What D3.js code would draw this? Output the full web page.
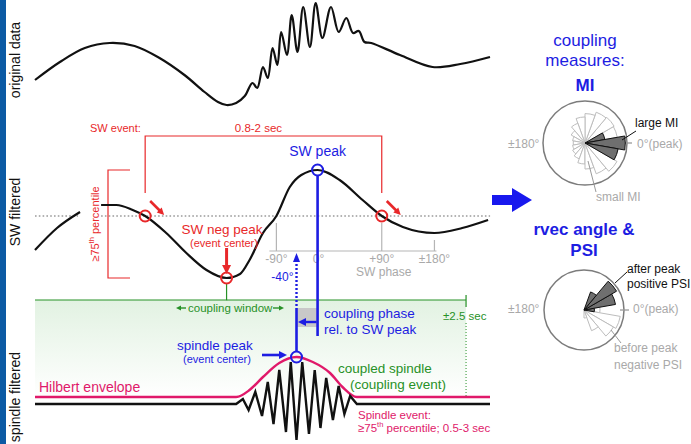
<!DOCTYPE html>
<html>
<head>
<meta charset="utf-8">
<script src="https://cdn.jsdelivr.net/npm/d3@7"></script>
<style>
  body { margin: 0; background: #fff; }
  svg { display: block; font-family: "Liberation Sans", Arial, sans-serif; }
</style>
</head>
<body>
<svg id="fig" width="691" height="444"></svg>
<script>
// ---- time base: seconds relative to the SW negative peak ----
// raw recording (slow wave + riding spindle), amplitude in µV
const origT = [-2.00,-1.74,-1.48,-1.22,-0.96,-0.70,-0.44,-0.23,-0.09,0.00,0.10,0.19,0.27,0.32,0.38,0.43,0.48,0.53,0.57,0.63,0.68,0.74,0.80,0.87,0.93,1.00,1.09,1.17,1.25,1.32,1.38,1.44,1.51,1.81,2.15,2.44,2.75];
const origV = [-52,-16,12,22,16,-8,-42,-76,-96,-102,-98,-84,-58,-68,-26,-48,12,-22,44,-2,78,4,94,14,102,32,94,44,72,42,46,24,22,-2,-26,-20,-6];

// SW-band filtered signal (normalised), before and after the time break
const swPreT = [-2.00,-1.77,-1.53];
const swPreV = [-0.68,-0.24,0.08];
const swT = [-1.31,-1.15,-0.98,-0.85,-0.63,-0.42,-0.21,0.00,0.14,0.24,0.38,0.52,0.66,0.78,0.95,1.18,1.42,1.62,1.84,2.17,2.46,2.73];
const swV = [0.22,0.22,0.12,0.00,-0.34,-0.74,-1.08,-1.24,-1.16,-0.88,-0.34,0.00,0.58,0.82,0.92,0.72,0.32,0.00,-0.22,-0.34,-0.24,-0.08];

// SW event landmarks
const swEventStart = {t: -0.85, v: 0.00};
const swNegPeak    = {t: 0.00,  v: -1.24};
const swPosPeak    = {t: 0.95,  v: 0.92};
const swEventEnd   = {t: 1.62,  v: 0.00};

// SW phase axis
const phaseLabels = ["-90°", "0°", "+90°", "±180°"];
const phaseT = [0.52, 0.95, 1.62, 2.17];

// spindle band: Hilbert envelope and filtered trace
const envT = [-2.00,0.10,0.24,0.38,0.55,0.73,0.90,1.08,1.21,1.36,2.75];
const envV = [0.175,0.175,0.35,0.675,1.025,1.175,1.05,0.775,0.425,0.175,0.175];
const spinT = [-2.00,0.10,0.17,0.23,0.30,0.37,0.43,0.49,0.55,0.62,0.67,0.73,0.79,0.86,0.92,0.98,1.04,1.11,1.17,1.23,1.29,1.36,2.75];
const spinV = [0,0,0.125,-0.15,0.3,-0.3,0.55,-0.5,0.85,-0.7,1.05,-0.9,1.05,-0.75,0.85,-0.6,0.65,-0.4,0.45,-0.25,0.2,0,0];
const spindlePeak = {t: 0.73, v: 1.175};
const couplingWindow = [-2.0, 2.5];

// phase histograms (bin centre in degrees, 0° = SW peak; length relative to circle radius)
const roseBins = [0,20,40,60,80,100,120,140,160,180,200,220,240,260,280,300,320,340];
const miUniform = [0.70,0.78,0.80,0.78,0.70,0.62,0.50,0.38,0.30,0.28,0.30,0.34,0.40,0.50,0.62,0.78,0.88,0.80];
const miCoupledBins = [20, 0, -20];
const miCoupled = [0.48, 0.96, 0.80];
const psiBeforeBins = [0, -20, -40, -60, -80];
const psiBefore = [0.40, 0.92, 0.85, 0.55, 0.20];
const psiAfterBins = [0, 20, 40, 60];
const psiAfter = [0.26, 0.80, 0.94, 0.48];

// ---- colours ----
const RED = "#e8282a", BLUE = "#1d1de2", GREEN = "#279127", PINK = "#e0196a", GREY = "#a9a9a9";

const svg = d3.select("#fig");
const defs = svg.append("defs");
const grad = defs.append("linearGradient").attr("id", "winFill")
  .attr("x1", 0).attr("y1", 0).attr("x2", 0).attr("y2", 1);
grad.append("stop").attr("offset", "0%").attr("stop-color", "#e2f2e2");
grad.append("stop").attr("offset", "100%").attr("stop-color", "#ffffff");

// ---- scales ----
const x = d3.scaleLinear().domain([-2, 2.75]).range([35, 490]);
const yOrig = d3.scaleLinear().domain([-110, 110]).range([109, -1]);
const ySW = d3.scaleLinear().domain([-1, 1]).range([266, 166]);
const ySp = d3.scaleLinear().domain([-1, 1]).range([444, 364]);

const zip = (ts, vs) => ts.map((t, i) => ({t, v: vs[i]}));
const interp = (ts, vs, t) => {
  const i = Math.max(1, Math.min(ts.length - 1, d3.bisectLeft(ts, t)));
  const f = (t - ts[i-1]) / (ts[i] - ts[i-1]);
  return vs[i-1] + f * (vs[i] - vs[i-1]);
};

function arrow(g, x1, y1, x2, y2, color, w, hl, hw) {
  const dx = x2 - x1, dy = y2 - y1, L = Math.hypot(dx, dy), ux = dx / L, uy = dy / L;
  const bx = x2 - ux * hl, by = y2 - uy * hl;
  g.append("line").attr("x1", x1).attr("y1", y1).attr("x2", bx + ux).attr("y2", by + uy)
    .attr("stroke", color).attr("stroke-width", w);
  g.append("path")
    .attr("d", `M${x2},${y2}L${bx - uy * hw / 2},${by + ux * hw / 2}L${bx + uy * hw / 2},${by - ux * hw / 2}Z`)
    .attr("fill", color);
}
function label(g, txt, px, py, size, color, anchor = "start", weight = "normal") {
  return g.append("text").attr("x", px).attr("y", py).attr("font-size", size)
    .attr("fill", color).attr("text-anchor", anchor).attr("font-weight", weight).text(txt);
}

// ---- left side bar and row titles ----
svg.append("rect").attr("x", 0).attr("y", 0).attr("width", 6).attr("height", 444).attr("fill", "#0c5aa4");
[["original data", 60], ["SW filtered", 212], ["spindle filtered", 397]].forEach(([t, cy]) => {
  svg.append("text").attr("transform", `translate(20,${cy}) rotate(-90)`)
    .attr("text-anchor", "middle").attr("font-size", 14).attr("fill", "#111").text(t);
});

// ---- coupling window background ----
const win = svg.append("g");
win.append("rect").attr("x", x(couplingWindow[0])).attr("y", 300)
  .attr("width", x(couplingWindow[1]) - x(couplingWindow[0])).attr("height", 98)
  .attr("fill", "url(#winFill)");

// ---- original data ----
svg.append("path").datum(zip(origT, origV))
  .attr("d", d3.line().x(d => x(d.t)).y(d => yOrig(d.v)).curve(d3.curveCatmullRom.alpha(0.5)))
  .attr("fill", "none").attr("stroke", "#111").attr("stroke-width", 2.2);

// ---- SW filtered row ----
const sw = svg.append("g");
const zeroY = ySW(0);
[[swPreT[0], swPreT[swPreT.length - 1]], [swT[0], swT[swT.length - 1]]].forEach(([a, b]) => {
  sw.append("line").attr("x1", x(a)).attr("x2", x(b) + (b === swT[swT.length-1] ? 2 : -2)).attr("y1", zeroY).attr("y2", zeroY)
    .attr("stroke", "#9a9a9a").attr("stroke-width", 1.6).attr("stroke-dasharray", "1.6,2.2");
});

// phase axis
const axY = 251;
sw.append("line").attr("x1", x(phaseT[0]) - 7).attr("x2", x(phaseT[3]) + 2)
  .attr("y1", axY).attr("y2", axY).attr("stroke", "#b5b5b5").attr("stroke-width", 1.2);
phaseT.forEach((t, i) => {
  const top = ySW(interp(swT, swV, t)) + 7;
  sw.append("line").attr("x1", x(t)).attr("x2", x(t)).attr("y1", top).attr("y2", axY)
    .attr("stroke", "#b5b5b5").attr("stroke-width", 1.2);
  label(sw, phaseLabels[i], x(t) + (i === 1 ? 1 : 0), 263, 12, GREY, "middle");
});
label(sw, "SW phase", x(phaseT[2]) + 2, 276, 12, GREY, "middle");

// red event bracket
const bx0 = x(swEventStart.t), bx1 = x(swEventEnd.t);
sw.append("path").attr("d", `M${bx0},193V136H${bx1}V193`)
  .attr("fill", "none").attr("stroke", RED).attr("stroke-width", 1.2);
label(sw, "SW event:", 90, 132, 11, RED);
label(sw, "0.8-2 sec", (bx0 + bx1) / 2 - 5, 132, 11.5, RED, "middle");

// amplitude criterion bracket
sw.append("path").attr("d", `M130,${ySW(swPosPeak.v)}H108V${ySW(swNegPeak.v)}H130`)
  .attr("fill", "none").attr("stroke", RED).attr("stroke-width", 1.2);
const pct = sw.append("text").attr("transform", "translate(99,224) rotate(-90)")
  .attr("text-anchor", "middle").attr("font-size", 11).attr("fill", RED);
pct.append("tspan").text("≥75");
pct.append("tspan").attr("font-size", 7.5).attr("dy", -5).text("th");
pct.append("tspan").attr("dy", 5).text(" percentile");

// curve
const swLine = d3.line().x(d => x(d.t)).y(d => ySW(d.v)).curve(d3.curveMonotoneX);
[zip(swPreT, swPreV), zip(swT, swV)].forEach(seg => {
  sw.append("path").datum(seg).attr("d", swLine)
    .attr("fill", "none").attr("stroke", "#111").attr("stroke-width", 2.2);
});

// zero-crossing arrows and markers
[swEventStart, swEventEnd].forEach(p => {
  const px = x(p.t), py = ySW(p.v);
  arrow(sw, px + 5, py - 15, px + 19, py - 1, RED, 2.6, 7, 7);
});
arrow(sw, x(swNegPeak.t), 248, x(swNegPeak.t), 274, RED, 3, 9, 9);
label(sw, "SW neg peak", 222, 234, 13.5, RED, "middle");
label(sw, "(event center)", 224, 247, 11, RED, "middle");

// coupling window frame
win.append("path").attr("d", `M${x(swNegPeak.t)},${ySW(swNegPeak.v) + 5}V300H${x(couplingWindow[0])}`)
  .attr("fill", "none").attr("stroke", GREEN).attr("stroke-width", 1.2);
win.append("path").attr("d", `M${x(swNegPeak.t)},300H${x(couplingWindow[1])}M${x(couplingWindow[1])},295V307`)
  .attr("fill", "none").attr("stroke", GREEN).attr("stroke-width", 1.2);
win.append("line").attr("x1", x(couplingWindow[1])).attr("x2", x(couplingWindow[1]))
  .attr("y1", 323).attr("y2", 396).attr("stroke", GREEN).attr("stroke-width", 1)
  .attr("stroke-dasharray", "1,2");
label(win, "coupling window", 188, 312, 11.5, GREEN);
arrow(win, 186, 308, 176, 308, GREEN, 1.4, 5, 5);
arrow(win, 273, 308, 284, 308, GREEN, 1.4, 5, 5);
label(win, "±2.5 sec", 443, 320, 11.5, GREEN);

// ---- spindle row ----
const sp = svg.append("g");
const pkX = x(swPosPeak.t), spX = x(spindlePeak.t);
sp.append("rect").attr("x", spX).attr("y", 308).attr("width", pkX - spX).attr("height", 19).attr("fill", "#c8c8c8");

sp.append("path").datum(zip(envT, envV))
  .attr("d", d3.line().x(d => x(d.t)).y(d => ySp(d.v)).curve(d3.curveMonotoneX))
  .attr("fill", "none").attr("stroke", PINK).attr("stroke-width", 2.4);
sp.append("path").datum(zip(spinT, spinV))
  .attr("d", d3.line().x(d => x(d.t)).y(d => ySp(d.v)))
  .attr("fill", "none").attr("stroke", "#111").attr("stroke-width", 2.4).attr("stroke-linejoin", "miter");

label(sp, "Hilbert envelope", 39, 392, 14, PINK);
label(sp, "Spindle event:", 358, 419, 11.5, PINK);
const se = label(sp, "≥75", 358, 432, 11.5, PINK);
se.append("tspan").attr("font-size", 7.5).attr("dy", -5).text("th");
se.append("tspan").attr("dy", 5).text(" percentile; 0.5-3 sec");
label(sp, "coupled spindle", 338, 373, 13.5, GREEN);
label(sp, "(coupling event)", 350, 389, 13.5, GREEN);

// ---- blue coupling-phase annotation ----
const bl = svg.append("g");
bl.append("line").attr("x1", pkX).attr("x2", pkX).attr("y1", ySW(swPosPeak.v) + 5.5).attr("y2", 336)
  .attr("stroke", BLUE).attr("stroke-width", 2.6);
bl.append("line").attr("x1", spX).attr("x2", spX).attr("y1", 308).attr("y2", ySp(spindlePeak.v) - 5.5)
  .attr("stroke", BLUE).attr("stroke-width", 2.6);
bl.append("line").attr("x1", spX).attr("x2", spX).attr("y1", 306).attr("y2", 261)
  .attr("stroke", BLUE).attr("stroke-width", 2.4).attr("stroke-dasharray", "2,2");
bl.append("path").attr("d", `M${spX},253L${spX - 3.5},262L${spX + 3.5},262Z`).attr("fill", BLUE);
arrow(bl, pkX - 1, 322, spX + 1.5, 322, BLUE, 2.4, 8, 8);
arrow(bl, 262, 355, 287, 355, BLUE, 2.6, 8, 8);
label(bl, "-40°", spX - 3, 281, 12, BLUE, "end");
label(bl, "SW peak", pkX, 156, 14, BLUE, "middle");
label(bl, "coupling phase", 324, 318, 13.5, BLUE);
label(bl, "rel. to SW peak", 324, 333.5, 13.5, BLUE);
label(bl, "spindle peak", 177, 350, 13.5, BLUE);
label(bl, "(event center)", 183, 363, 11, BLUE);

// event circles
[swEventStart, swNegPeak, swEventEnd].forEach(p => {
  sw.append("circle").attr("cx", x(p.t)).attr("cy", ySW(p.v)).attr("r", 5.5)
    .attr("fill", "none").attr("stroke", RED).attr("stroke-width", 2);
});
bl.append("circle").attr("cx", pkX).attr("cy", ySW(swPosPeak.v)).attr("r", 5.5)
  .attr("fill", "none").attr("stroke", BLUE).attr("stroke-width", 2);
bl.append("circle").attr("cx", spX).attr("cy", ySp(spindlePeak.v)).attr("r", 5.5)
  .attr("fill", "none").attr("stroke", BLUE).attr("stroke-width", 2);

// ---- big arrow to the coupling measures ----
svg.append("path").attr("d", "M492,195H512V188L532,200L512,212V205H492Z").attr("fill", "#1818ee");

// ---- coupling measures (phase roses) ----
const right = svg.append("g");
label(right, "coupling", 585, 46, 17, BLUE, "middle");
label(right, "measures:", 585, 66, 17, BLUE, "middle");
label(right, "MI", 585, 91, 17, BLUE, "middle", "bold");
label(right, "rvec angle &", 584, 235, 17, BLUE, "middle", "bold");
label(right, "PSI", 584, 256, 17, BLUE, "middle", "bold");

const toRad = deg => (90 - deg) * Math.PI / 180;
function rose(cx, cy, R, layers) {
  const g = right.append("g").attr("transform", `translate(${cx},${cy})`);
  g.append("circle").attr("r", R).attr("fill", "none").attr("stroke", "#7c7c7c").attr("stroke-width", 1.5);
  g.append("line").attr("x1", R - 4).attr("x2", R + 5).attr("y1", 0).attr("y2", 0)
    .attr("stroke", "#9a9a9a").attr("stroke-width", 1.3);
  const r = d3.scaleLinear().domain([0, 1]).range([0, R]);
  const arc = d3.arc().innerRadius(0).outerRadius(d => r(d.v))
    .startAngle(d => toRad(d.b + 10)).endAngle(d => toRad(d.b - 10));
  layers.forEach(([bins, vals, fill, stroke]) => {
    g.selectAll(null).data(bins.map((b, i) => ({b, v: vals[i]}))).join("path")
      .attr("d", arc).attr("fill", fill).attr("stroke", stroke).attr("stroke-width", 1);
  });
  return g;
}
rose(585, 143, 42, [[roseBins, miUniform, "#fff", "#bdbdbd"], [miCoupledBins, miCoupled, "#6f6f6f", "#111"]]);
rose(584, 310, 40, [[psiBeforeBins, psiBefore, "#fff", "#bdbdbd"], [psiAfterBins, psiAfter, "#6f6f6f", "#111"]]);

label(right, "±180°", 508, 148, 12, GREY);
label(right, "0°(peak)", 637, 148, 12, GREY);
label(right, "±180°", 508, 313, 12, GREY);
label(right, "0°(peak)", 633, 313, 12, GREY);

right.append("line").attr("x1", 622).attr("y1", 140).attr("x2", 636).attr("y2", 131).attr("stroke", "#111").attr("stroke-width", 1);
label(right, "large MI", 635, 127, 12, "#111");
right.append("line").attr("x1", 588).attr("y1", 161).attr("x2", 596).attr("y2", 192).attr("stroke", "#999").attr("stroke-width", 1);
label(right, "small MI", 596, 201, 12, GREY);

right.append("line").attr("x1", 615).attr("y1", 283).attr("x2", 627).attr("y2", 272).attr("stroke", "#111").attr("stroke-width", 1);
label(right, "after peak", 627, 273, 12, "#111");
label(right, "positive PSI", 627, 288, 12, "#111");
right.append("line").attr("x1", 611).attr("y1", 330).attr("x2", 621).attr("y2", 343).attr("stroke", "#999").attr("stroke-width", 1);
label(right, "before peak", 614, 352, 12, GREY);
label(right, "negative PSI", 614, 369, 12, GREY);
</script>
</body>
</html>
